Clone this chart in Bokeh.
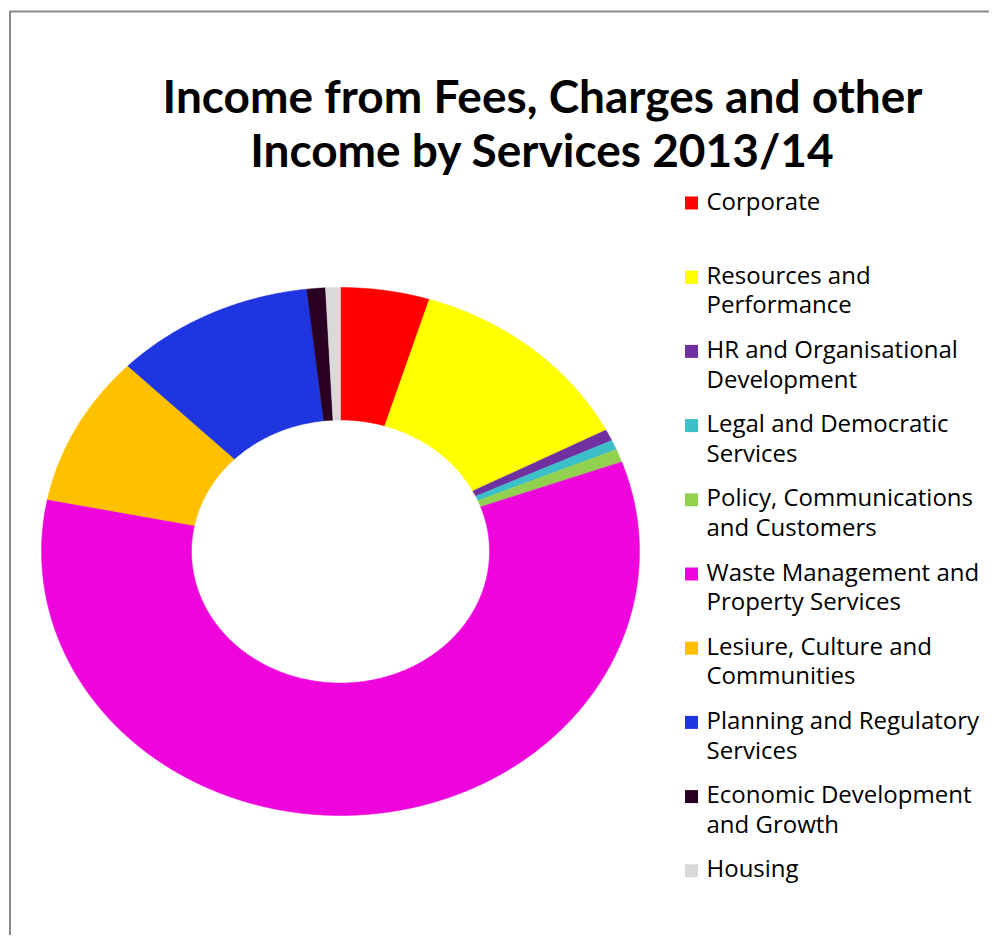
import numpy as np
from bokeh.plotting import figure
from bokeh.models import Range1d
from bokeh.core.properties import value
from bokeh.embed import file_html
from bokeh.resources import INLINE

# ---- data ----
categories = [
    "Corporate",
    "Resources and\nPerformance",
    "HR and Organisational\nDevelopment",
    "Legal and Democratic\nServices",
    "Policy, Communications\nand Customers",
    "Waste Management and\nProperty Services",
    "Lesiure, Culture and\nCommunities",
    "Planning and Regulatory\nServices",
    "Economic Development\nand Growth",
    "Housing",
]
shares = [4.8, 12.6, 0.7, 0.6, 0.8, 58.7, 9.25, 10.8, 1.0, 0.8]
colors = ["#FF0000", "#FFFF00", "#7030A0", "#3CBFC8", "#92D050",
          "#EE05DC", "#FFC000", "#1F35E0", "#2A0022", "#D9D9D9"]
title_lines = ["Income from Fees, Charges and other",
               "Income by Services 2013/14"]

# ---- layout (pixels) ----
W, H = 989, 935
p = figure(width=W, height=H, output_backend="svg", toolbar_location=None,
           x_range=Range1d(0, W), y_range=Range1d(H, 0),
           min_border=0, outline_line_color=None)
p.axis.visible = False
p.grid.visible = False
p.background_fill_color = "white"
p.border_fill_color = "white"

# border
p.line(x=[9.5, 9.5, 1200], y=[1200, 11, 11], line_color="#8A8A8A", line_width=2)

# donut (elliptical, like the reference)
cx, cy = 340, 551
rxo, ryo = 299, 264
rxi, ryi = 149, 131.5
vals = np.array(shares, dtype=float)
frac = vals / vals.sum()
edges = np.concatenate([[0], np.cumsum(frac)]) * 2 * np.pi
xs, ys = [], []
for a0, a1 in zip(edges[:-1], edges[1:]):
    n = max(8, int((a1 - a0) / (2 * np.pi) * 720))
    t = np.linspace(a0, a1, n)
    ox = cx + rxo * np.sin(t)
    oy = cy - ryo * np.cos(t)
    ix = cx + rxi * np.sin(t[::-1])
    iy = cy - ryi * np.cos(t[::-1])
    xs.append(np.concatenate([ox, ix]).tolist())
    ys.append(np.concatenate([oy, iy]).tolist())
p.patches(xs=xs, ys=ys, fill_color=colors, line_color=colors, line_width=0.5)

# title
tfs = 46
p.text(x=[542, 542], y=[113 - 0.39 * tfs, 167 - 0.39 * tfs], text=title_lines,
       text_font=value("Lato"), text_font_style="bold", text_font_size=f"{tfs}px",
       text_align="center", text_baseline="alphabetic", text_color="black")

# legend
lfs = 24
base0, step, lh = 209, 74.2, 29.5
sq_x, sq_y = [], []
tx, ty, tt = [], [], []
for i, lab in enumerate(categories):
    b = base0 + i * step
    sq_x.append(691)
    sq_y.append(b - 6.5)
    for j, line in enumerate(lab.split("\n")):
        tx.append(706)
        ty.append(b + j * lh - 0.39 * lfs)
        tt.append(line)
p.rect(x=sq_x, y=sq_y, width=13, height=13, fill_color=colors, line_color=None)
p.text(x=tx, y=ty, text=tt, text_font=value("Open Sans"), text_font_size=f"{lfs}px",
       text_align="left", text_baseline="alphabetic", text_color="black")

open("out.html", "w").write(file_html(p, INLINE))
